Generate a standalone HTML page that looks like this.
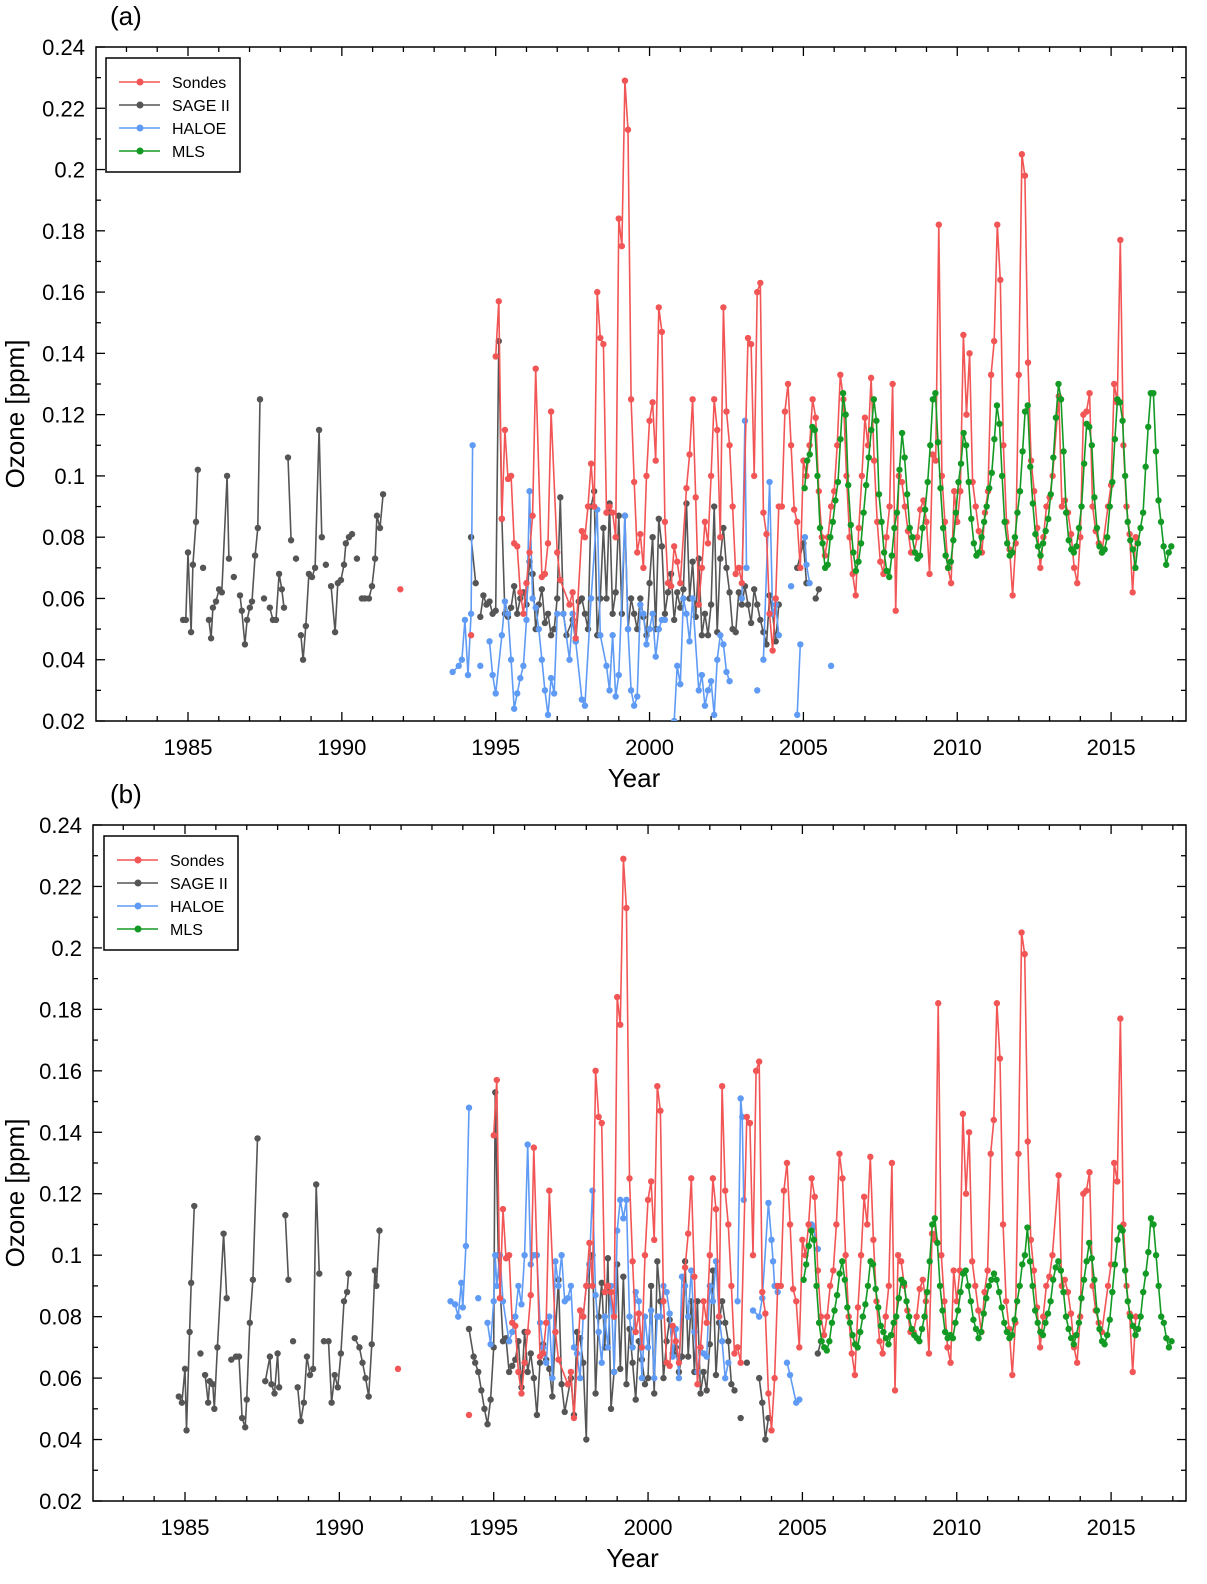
<!DOCTYPE html>
<html><head><meta charset="utf-8">
<style>
html,body{margin:0;padding:0;background:#fff;}
svg{display:block;font-family:"Liberation Sans",Arial,sans-serif;}
</style></head>
<body>
<svg id="chart" width="1207" height="1584" viewBox="0 0 1207 1584" xmlns="http://www.w3.org/2000/svg"></svg>
<script>
const xTickYears=[1985,1990,1995,2000,2005,2010,2015];
const yTickValues=[0.02,0.04,0.06,0.08,0.1,0.12,0.14,0.16,0.18,0.2,0.22,0.24];
const yTickLabels=["0.02","0.04","0.06","0.08","0.1","0.12","0.14","0.16","0.18","0.2","0.22","0.24"];
const seriesNames=["Sondes","SAGE II","HALOE","MLS"];
const seriesColors=["#f25555","#555555","#5f9bf5","#139a24"];

const sondes=[[1991.9,.063],null,[1994.2,.048],null,
[1995.0,.139],[1995.1,.157],[1995.2,.086],[1995.3,.115],[1995.4,.099],[1995.5,.100],[1995.6,.078],[1995.7,.077],[1995.8,.062],[1995.9,.055],[1996.0,.065],[1996.1,.075],[1996.2,.087],[1996.3,.135],[1996.5,.067],[1996.6,.068],[1996.7,.078],[1996.8,.121],[1997.0,.075],[1997.1,.066],[1997.4,.058],[1997.5,.062],[1997.6,.047],[1997.8,.082],[1997.9,.080],[1998.0,.090],[1998.1,.104],[1998.2,.090],[1998.3,.160],[1998.4,.145],[1998.5,.143],[1998.6,.088],[1998.7,.090],[1998.8,.088],[1998.9,.080],[1999.0,.184],[1999.1,.175],[1999.2,.229],[1999.3,.213],[1999.4,.125],[1999.5,.098],[1999.6,.075],[1999.7,.081],[1999.8,.070],[1999.9,.100],[2000.0,.118],[2000.1,.124],[2000.2,.105],[2000.3,.155],[2000.4,.147],[2000.5,.085],[2000.6,.065],[2000.7,.064],[2000.8,.077],[2000.9,.072],[2001.0,.065],[2001.2,.096],[2001.3,.107],[2001.4,.125],[2001.5,.093],[2001.6,.058],[2001.7,.070],[2001.8,.085],[2001.9,.078],[2002.0,.100],[2002.1,.125],[2002.2,.115],[2002.3,.080],[2002.4,.155],[2002.5,.121],[2002.6,.110],[2002.7,.090],[2002.8,.068],[2002.9,.070],[2003.0,.065],[2003.2,.145],[2003.3,.143],[2003.4,.100],[2003.5,.160],[2003.6,.163],[2003.7,.088],[2003.8,.081],[2003.9,.055],[2004.0,.043],[2004.1,.060],[2004.2,.090],[2004.3,.090],[2004.4,.121],[2004.5,.130],[2004.6,.110],[2004.7,.089],[2004.8,.085],[2004.9,.070],[2005.0,.105],[2005.1,.100],[2005.2,.110],[2005.3,.125],[2005.4,.119],[2005.5,.095],[2005.6,.080],[2005.7,.074],[2005.8,.080],[2005.9,.090],[2006.0,.095],[2006.1,.110],[2006.2,.133],[2006.3,.125],[2006.4,.100],[2006.5,.080],[2006.6,.068],[2006.7,.061],[2006.8,.083],[2006.9,.100],[2007.0,.119],[2007.1,.110],[2007.2,.132],[2007.3,.105],[2007.4,.085],[2007.5,.072],[2007.6,.068],[2007.7,.080],[2007.8,.090],[2007.9,.130],[2008.0,.056],[2008.1,.100],[2008.2,.098],[2008.3,.090],[2008.4,.082],[2008.5,.075],[2008.6,.075],[2008.7,.080],[2008.8,.089],[2008.9,.092],[2009.0,.085],[2009.1,.068],[2009.2,.107],[2009.3,.105],[2009.4,.182],[2009.5,.100],[2009.6,.085],[2009.7,.070],[2009.8,.065],[2009.9,.095],[2010.0,.085],[2010.1,.095],[2010.2,.146],[2010.3,.120],[2010.4,.140],[2010.5,.098],[2010.6,.090],[2010.7,.082],[2010.8,.075],[2010.9,.088],[2011.0,.095],[2011.1,.133],[2011.2,.144],[2011.3,.182],[2011.4,.164],[2011.5,.110],[2011.6,.085],[2011.7,.076],[2011.8,.061],[2011.9,.078],[2012.0,.133],[2012.1,.205],[2012.2,.198],[2012.3,.137],[2012.4,.105],[2012.5,.095],[2012.6,.083],[2012.7,.070],[2012.8,.080],[2012.9,.090],[2013.0,.093],[2013.1,.100],[2013.3,.126],[2013.4,.090],[2013.5,.092],[2013.6,.088],[2013.7,.081],[2013.8,.070],[2013.9,.065],[2014.0,.080],[2014.1,.120],[2014.2,.121],[2014.3,.127],[2014.4,.090],[2014.5,.082],[2014.6,.078],[2014.7,.075],[2014.9,.090],[2015.0,.097],[2015.1,.130],[2015.2,.124],[2015.3,.177],[2015.4,.110],[2015.5,.090],[2015.6,.081],[2015.7,.062],[2015.8,.080]];

const sageA=[[1984.84,.053],[1984.93,.053],[1985.0,.075],[1985.1,.049],[1985.16,.071],[1985.26,.085],[1985.32,.102],null,[1985.49,.070],null,[1985.68,.053],[1985.75,.047],[1985.81,.057],[1985.91,.059],[1986.01,.063],[1986.1,.062],[1986.27,.100],[1986.33,.073],null,[1986.49,.067],null,[1986.69,.061],[1986.75,.056],[1986.85,.045],[1986.92,.053],[1987.01,.057],[1987.08,.059],[1987.18,.074],[1987.27,.083],[1987.34,.125],null,[1987.47,.060],null,[1987.66,.057],[1987.76,.053],[1987.86,.053],[1987.96,.068],[1988.05,.063],[1988.12,.057],null,[1988.25,.106],[1988.35,.079],null,[1988.51,.073],null,[1988.67,.048],[1988.74,.040],[1988.83,.051],[1988.93,.068],[1989.03,.067],[1989.13,.070],[1989.26,.115],[1989.35,.080],null,[1989.48,.071],null,[1989.65,.064],[1989.78,.049],[1989.87,.065],[1989.97,.066],[1990.07,.071],[1990.13,.078],[1990.23,.080],[1990.33,.081],null,[1990.49,.073],null,[1990.65,.060],[1990.75,.060],[1990.88,.060],[1990.98,.064],[1991.08,.073],[1991.14,.087],[1991.24,.083],[1991.34,.094],null,
[1994.2,.080],[1994.35,.065],null,[1994.5,.054],[1994.6,.061],[1994.7,.058],[1994.8,.059],[1994.9,.055],[1995.0,.056],[1995.1,.144],[1995.2,.086],[1995.3,.055],[1995.4,.054],[1995.5,.057],[1995.6,.064],[1995.7,.055],[1995.8,.060],[1995.9,.062],[1996.0,.058],[1996.1,.072],[1996.2,.068],[1996.3,.050],[1996.4,.058],[1996.5,.063],[1996.6,.052],[1996.7,.055],[1996.8,.048],[1996.9,.050],[1997.0,.060],[1997.1,.093],[1997.2,.055],[1997.3,.048],[1997.5,.053],[1997.6,.046],[1997.7,.059],[1997.8,.060],[1997.9,.055],[1998.0,.050],[1998.1,.090],[1998.2,.095],[1998.3,.048],[1998.4,.060],[1998.5,.083],[1998.6,.060],[1998.7,.091],[1998.8,.055],[1998.9,.062],[1999.0,.087],[1999.1,.055],[1999.2,.087],[1999.3,.050],[1999.4,.060],[1999.5,.055],[1999.6,.050],[1999.7,.060],[1999.8,.054],[1999.9,.048],[2000.0,.065],[2000.1,.080],[2000.2,.050],[2000.3,.086],[2000.4,.077],[2000.5,.055],[2000.6,.062],[2000.7,.068],[2000.8,.053],[2000.9,.062],[2001.0,.057],[2001.1,.063],[2001.2,.091],[2001.3,.060],[2001.4,.072],[2001.5,.054],[2001.6,.073],[2001.7,.048],[2001.8,.055],[2001.9,.048],[2002.0,.058],[2002.1,.090],[2002.2,.049],[2002.3,.073],[2002.4,.083],[2002.5,.070],[2002.6,.062],[2002.7,.050],[2002.8,.049],[2002.9,.062],[2003.0,.058],[2003.1,.064],[2003.2,.058],[2003.3,.052],[2003.4,.063],[2003.5,.058],[2003.6,.053],[2003.7,.049],[2003.8,.045],[2003.9,.061],[2004.0,.055],[2004.1,.046],[2004.2,.058],null,[2004.8,.070],[2005.0,.078],[2005.1,.065],null,[2005.4,.060],[2005.5,.063]];

const haloeA=[[1993.6,.036],[1993.8,.038],[1993.9,.040],[1994.0,.053],[1994.1,.035],[1994.2,.055],[1994.25,.110],null,[1994.5,.038],null,[1994.8,.046],[1994.9,.035],[1995.0,.029],[1995.2,.048],[1995.3,.059],[1995.4,.055],[1995.5,.040],[1995.6,.024],[1995.7,.029],[1995.8,.034],[1995.9,.038],[1996.0,.053],[1996.1,.095],[1996.2,.060],[1996.3,.057],[1996.4,.050],[1996.5,.040],[1996.6,.030],[1996.7,.022],[1996.8,.034],[1996.9,.029],[1997.0,.055],[1997.2,.055],[1997.4,.040],[1997.5,.055],[1997.6,.046],[1997.8,.027],[1997.9,.025],[1998.1,.060],[1998.3,.089],[1998.4,.048],[1998.6,.038],[1998.7,.030],[1998.8,.048],[1998.9,.028],[1999.0,.035],[1999.2,.087],[1999.3,.050],[1999.4,.030],[1999.5,.025],[1999.6,.028],[1999.7,.058],[1999.8,.055],[1999.9,.045],[2000.0,.050],[2000.1,.055],[2000.2,.041],[2000.3,.050],[2000.4,.053],[2000.5,.053],null,[2000.8,.020],[2000.9,.038],[2001.0,.032],[2001.1,.060],[2001.2,.055],[2001.3,.046],[2001.4,.060],[2001.6,.030],[2001.7,.035],[2001.8,.025],[2001.9,.030],[2002.0,.033],[2002.1,.022],[2002.2,.040],[2002.3,.048],[2002.4,.045],[2002.5,.036],[2002.6,.033],null,[2003.0,.060],[2003.1,.118],[2003.15,.070],null,[2003.5,.030],null,[2003.7,.040],[2003.9,.098],[2004.0,.055],[2004.1,.058],[2004.2,.048],null,[2004.6,.064],null,[2004.8,.022],[2004.9,.045],null,[2005.05,.080],[2005.1,.071],[2005.2,.065],null,[2005.9,.038]];

const mlsA=[.096,.105,.107,.116,.115,.100,.083,.078,.070,.071,.080,.085,
.092,.098,.112,.127,.120,.097,.084,.075,.069,.072,.078,.088,
.097,.106,.115,.125,.118,.094,.085,.075,.069,.067,.074,.083,
.088,.102,.114,.106,.094,.083,.080,.075,.073,.074,.083,.089,
.098,.110,.125,.127,.111,.096,.083,.074,.070,.072,.079,.088,
.098,.104,.114,.110,.098,.086,.078,.074,.075,.080,.085,.090,
.096,.101,.112,.123,.117,.100,.085,.078,.074,.075,.080,.088,
.095,.108,.121,.123,.103,.091,.081,.077,.074,.078,.082,.086,
.094,.106,.119,.130,.125,.108,.088,.079,.076,.075,.077,.083,
.090,.104,.117,.116,.110,.093,.083,.077,.075,.076,.080,.090,
.098,.112,.125,.124,.118,.100,.085,.079,.076,.070,.078,.083,
.088,.103,.116,.127,.127,.108,.092,.085,.077,.071,.075,.077];

const sageB=[[1984.8,.054],[1984.9,.052],[1985.0,.063],[1985.05,.043],[1985.15,.075],[1985.2,.091],[1985.3,.116],null,[1985.5,.068],null,[1985.65,.061],[1985.75,.052],[1985.8,.059],[1985.9,.058],[1985.95,.050],[1986.05,.070],[1986.25,.107],[1986.35,.086],null,[1986.5,.066],[1986.65,.067],[1986.75,.067],[1986.85,.047],[1986.95,.044],[1987.0,.053],[1987.1,.078],[1987.2,.092],[1987.35,.138],null,[1987.6,.059],[1987.75,.067],[1987.8,.058],[1987.9,.055],[1988.0,.068],[1988.05,.057],null,[1988.25,.113],[1988.35,.092],null,[1988.5,.072],null,[1988.65,.057],[1988.75,.046],[1988.85,.052],[1988.95,.067],[1989.05,.061],[1989.15,.063],[1989.25,.123],[1989.35,.094],null,[1989.5,.072],[1989.65,.072],[1989.75,.052],[1989.85,.061],[1989.95,.057],[1990.05,.068],[1990.15,.085],[1990.25,.088],[1990.3,.094],null,[1990.5,.073],[1990.65,.070],[1990.75,.065],[1990.85,.060],[1990.95,.054],[1991.05,.071],[1991.15,.095],[1991.2,.090],[1991.3,.108],null,
[1994.2,.076],[1994.35,.067],[1994.4,.065],[1994.5,.062],[1994.6,.056],[1994.7,.050],[1994.8,.045],[1994.9,.053],[1995.0,.070],[1995.05,.153],[1995.15,.100],[1995.3,.072],[1995.4,.073],[1995.5,.062],[1995.6,.064],[1995.7,.066],[1995.8,.072],[1995.9,.057],[1996.0,.075],[1996.1,.062],[1996.2,.068],[1996.3,.060],[1996.4,.048],[1996.5,.065],[1996.6,.071],[1996.7,.066],[1996.8,.063],[1996.9,.054],[1997.0,.075],[1997.1,.092],[1997.2,.058],[1997.3,.049],[1997.5,.060],[1997.6,.048],[1997.7,.075],[1997.8,.073],[1997.9,.065],[1998.0,.040],[1998.1,.097],[1998.2,.100],[1998.3,.055],[1998.4,.080],[1998.5,.091],[1998.6,.070],[1998.7,.099],[1998.8,.050],[1998.9,.062],[1999.0,.097],[1999.1,.063],[1999.2,.093],[1999.3,.058],[1999.4,.076],[1999.5,.065],[1999.6,.053],[1999.7,.072],[1999.8,.066],[1999.9,.058],[2000.0,.060],[2000.1,.090],[2000.2,.055],[2000.3,.098],[2000.4,.085],[2000.5,.060],[2000.6,.072],[2000.7,.079],[2000.8,.068],[2000.9,.070],[2001.0,.062],[2001.1,.067],[2001.2,.098],[2001.3,.067],[2001.4,.085],[2001.5,.062],[2001.6,.085],[2001.7,.055],[2001.8,.062],[2001.9,.056],[2002.0,.071],[2002.1,.095],[2002.2,.061],[2002.3,.078],[2002.4,.085],[2002.5,.078],[2002.6,.072],[2002.7,.058],[2002.8,.056],null,[2003.0,.047],null,[2003.2,.065],null,[2003.6,.060],[2003.7,.052],[2003.8,.040],[2003.9,.047],null,[2005.5,.068],[2005.6,.072]];

const haloeB=[[1993.6,.085],[1993.75,.084],[1993.85,.080],[1993.95,.091],[1994.0,.083],[1994.1,.103],[1994.2,.148],null,[1994.5,.086],null,[1994.8,.078],[1994.9,.071],[1995.0,.085],[1995.05,.100],[1995.1,.090],[1995.2,.100],[1995.3,.085],[1995.5,.072],[1995.6,.075],[1995.7,.080],[1995.8,.090],[1995.9,.084],[1996.0,.100],[1996.1,.136],[1996.2,.097],[1996.3,.100],[1996.4,.100],[1996.5,.078],[1996.6,.070],[1996.7,.065],[1996.8,.080],[1996.9,.060],[1997.0,.098],[1997.1,.090],[1997.2,.100],[1997.3,.085],[1997.4,.086],[1997.5,.090],[1997.6,.070],[1997.7,.068],[1997.8,.060],[1997.9,.080],[1998.0,.090],[1998.1,.097],[1998.2,.121],[1998.3,.087],[1998.4,.075],[1998.5,.065],[1998.6,.080],[1998.7,.070],[1998.8,.090],[1998.9,.062],[1999.0,.108],[1999.1,.118],[1999.2,.112],[1999.3,.118],[1999.4,.080],[1999.5,.070],[1999.6,.088],[1999.7,.085],[1999.8,.060],[1999.9,.080],[2000.0,.070],[2000.1,.082],[2000.2,.060],[2000.3,.080],[2000.4,.080],[2000.5,.090],[2000.6,.088],[2000.7,.081],[2000.8,.067],[2000.9,.076],[2001.0,.060],[2001.1,.093],[2001.2,.090],[2001.3,.080],[2001.4,.095],[2001.5,.075],[2001.6,.062],[2001.7,.070],[2001.8,.068],[2001.9,.067],[2002.0,.090],[2002.1,.085],[2002.2,.098],[2002.3,.080],[2002.4,.072],[2002.5,.060],[2002.6,.065],null,[2002.9,.085],[2003.0,.151],[2003.05,.145],[2003.1,.118],null,[2003.4,.082],[2003.6,.080],[2003.7,.086],[2003.9,.117],[2004.0,.105],[2004.05,.098],[2004.1,.090],[2004.2,.088],null,[2004.5,.065],[2004.6,.061],[2004.8,.052],[2004.9,.053],null,[2005.3,.110],[2005.35,.109],[2005.5,.102]];

const mlsB=[.092,.097,.103,.108,.105,.090,.078,.072,.070,.069,.072,.078,
.082,.087,.094,.098,.092,.083,.078,.074,.071,.070,.075,.080,
.084,.090,.098,.097,.089,.083,.077,.075,.073,.071,.074,.078,
.080,.086,.092,.091,.085,.080,.076,.074,.073,.072,.076,.080,
.088,.098,.110,.112,.104,.090,.082,.075,.073,.074,.073,.078,
.082,.088,.094,.095,.090,.085,.079,.076,.073,.075,.081,.086,
.090,.092,.094,.092,.088,.083,.078,.075,.073,.074,.079,.085,
.090,.097,.100,.109,.098,.090,.082,.078,.075,.074,.078,.081,
.085,.092,.096,.098,.095,.088,.080,.076,.073,.071,.074,.078,
.086,.092,.098,.104,.099,.092,.082,.076,.072,.071,.074,.079,
.088,.097,.105,.109,.108,.095,.085,.080,.077,.074,.076,.080,
.088,.094,.101,.112,.110,.100,.090,.080,.078,.073,.070,.072];
const mlsStartYear=2005.0;

const NS="http://www.w3.org/2000/svg";
const svg=document.getElementById('chart');
function mk(tag,attrs,parent){const e=document.createElementNS(NS,tag);for(const k in attrs)e.setAttribute(k,attrs[k]);(parent||svg).appendChild(e);return e;}
function mlsPairs(vals){const out=[];for(let i=0;i<vals.length;i++)out.push([mlsStartYear+i/12+0.04,vals[i]]);return out;}

function drawPanel(p){
  const g=mk('g',{});
  
  
  const xs=y=>p.x1985+(y-1985)*p.pxYear;
  const ys=v=>p.bottom-(v-0.02)/0.22*(p.bottom-p.top);
  // clip
  const cp=mk('clipPath',{id:'clip'+p.id},g);
  mk('rect',{x:p.left,y:p.top,width:p.right-p.left,height:p.bottom-p.top},cp);
  // frame
  const frame=mk('rect',{x:p.left,y:p.top,width:p.right-p.left,height:p.bottom-p.top,fill:'none',stroke:'#000','stroke-width':1.5},g);
  
  
  // x ticks
  const xt=mk('g',{},g);
  
  
  for(let yr=1983;yr<=2017;yr++){
    const major=xTickYears.includes(yr);const L=major?9:5;const X=xs(yr);
    mk('line',{x1:X,x2:X,y1:p.bottom,y2:p.bottom-L,stroke:'#000','stroke-width':1.3},xt);
    mk('line',{x1:X,x2:X,y1:p.top,y2:p.top+L,stroke:'#000','stroke-width':1.3},xt);
  }
  xTickYears.forEach(yr=>{
    const t=mk('text',{x:xs(yr),y:p.bottom+34,'text-anchor':'middle','font-size':22,fill:'#000'},xt);
    t.textContent=yr;
    
    
  });
  // y ticks
  const yt=mk('g',{},g);
  
  
  for(let i=0;i<=22;i++){
    const v=0.02+i*0.01;const Y=ys(v);const L=(i%2===0)?9:5;
    mk('line',{x1:p.left,x2:p.left+L,y1:Y,y2:Y,stroke:'#000','stroke-width':1.3},yt);
    mk('line',{x1:p.right,x2:p.right-L,y1:Y,y2:Y,stroke:'#000','stroke-width':1.3},yt);
  }
  yTickValues.forEach((v,i)=>{
    const t=mk('text',{x:p.left-11,y:ys(v)+8,'text-anchor':'end','font-size':22,fill:'#000'},yt);
    t.textContent=yTickLabels[i];
    
    
  });
  // titles
  const xtitle=mk('text',{x:(p.left+p.right)/2-7,y:p.bottom+66,'text-anchor':'middle','font-size':26,fill:'#000'},g);
  xtitle.textContent='Year';
  
  
  const yc=(p.top+p.bottom)/2+30;
  const ytitle=mk('text',{x:24,y:yc,'text-anchor':'middle','font-size':26,fill:'#000',transform:`rotate(-90 24 ${yc})`},g);
  ytitle.textContent='Ozone [ppm]';
  
  
  const lab=mk('text',{x:p.labelX,y:p.top-22,'font-size':26,fill:'#000'},g);
  lab.textContent='('+p.id+')';
  
  
  // series (draw order: SAGE, HALOE, Sondes, MLS)
  const order=[1,2,0,3];
  const data=[sondes,p.sage,p.haloe,mlsPairs(p.mls)];
  order.forEach(si=>{
    const sg=mk('g',{'clip-path':`url(#clip${p.id})`},g);
    
    
    let d='';let pen=false;
    data[si].forEach(pt=>{
      if(!pt){pen=false;return;}
      d+=(pen?'L':'M')+xs(pt[0]).toFixed(1)+' '+ys(pt[1]).toFixed(1);pen=true;
    });
    mk('path',{d:d,fill:'none',stroke:seriesColors[si],'stroke-width':1.6,'stroke-linejoin':'round'},sg);
    data[si].forEach(pt=>{
      if(!pt)return;
      const c=mk('circle',{cx:xs(pt[0]),cy:ys(pt[1]),r:3.2,fill:seriesColors[si]},sg);
      
      
    });
  });
  // legend
  const lg=mk('g',{},g);
  
  
  mk('rect',{x:p.legX,y:p.legY,width:134,height:114,fill:'#fff',stroke:'#000','stroke-width':1.5},lg);
  seriesNames.forEach((n,i)=>{
    const e=mk('g',{},lg);
    
    
    const Y=p.legY+24+i*23;
    mk('line',{x1:p.legX+13,x2:p.legX+54,y1:Y,y2:Y,stroke:seriesColors[i],'stroke-width':1.6},e);
    mk('circle',{cx:p.legX+34,cy:Y,r:3.5,fill:seriesColors[i]},e);
    const t=mk('text',{x:p.legX+66,y:Y+6,'font-size':16,fill:'#000'},e);
    t.textContent=n;
  });
}
drawPanel({id:'a',left:96,right:1186,top:47,bottom:721,x1985:188,pxYear:30.77,labelX:110,legX:106,legY:58,sage:sageA,haloe:haloeA,mls:mlsA});
drawPanel({id:'b',left:93,right:1186,top:825,bottom:1501,x1985:185,pxYear:30.87,labelX:110,legX:104,legY:836,sage:sageB,haloe:haloeB,mls:mlsB});
</script>
</body></html>
